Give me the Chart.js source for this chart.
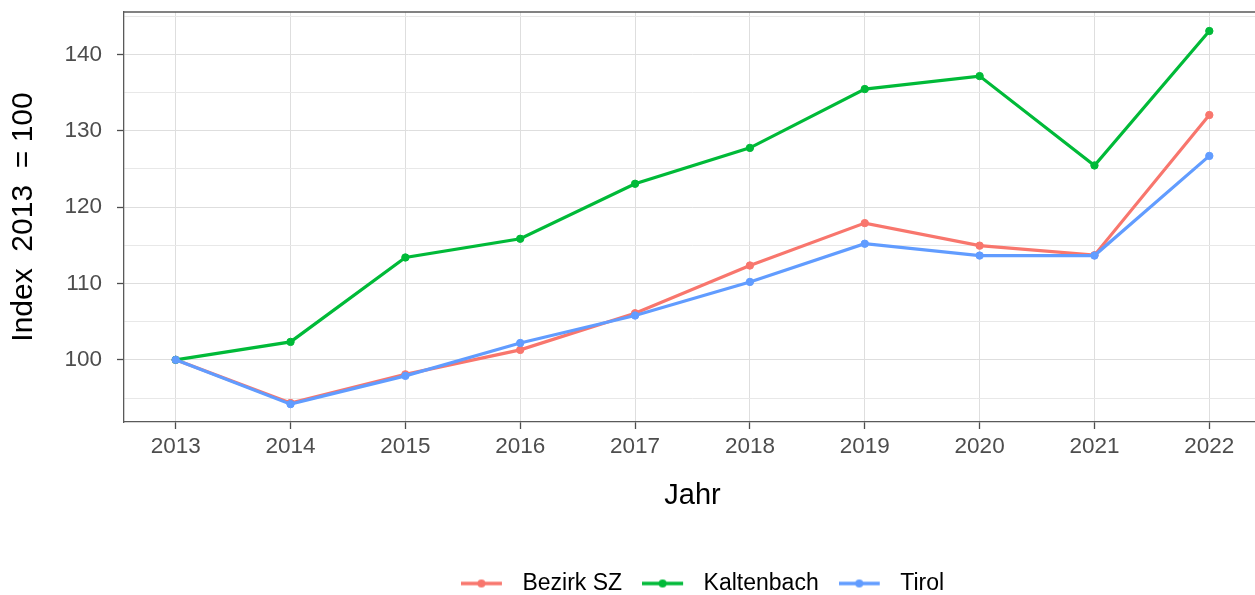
<!DOCTYPE html>
<html>
<head>
<meta charset="utf-8">
<title>Index 2013 = 100</title>
<script src="https://cdn.jsdelivr.net/npm/chart.js@4.4.1/dist/chart.umd.min.js"></script>
<style>
  html, body { margin: 0; padding: 0; background: #ffffff; overflow: hidden; }
  #wrap { width: 1266px; height: 605px; }
</style>
</head>
<body>
<div id="wrap"><canvas id="lineChart" width="1266" height="605"></canvas></div>
<script>
// DATA
const years = [2013, 2014, 2015, 2016, 2017, 2018, 2019, 2020, 2021, 2022];
const bezirkSZ   = [100, 94.35, 98.1, 101.3, 106.1, 112.35, 117.9, 114.95, 113.7, 132.05];
const kaltenbach = [100, 102.35, 113.4, 115.85, 123.05, 127.75, 135.45, 137.15, 125.45, 143.05];
const tirol      = [100, 94.2, 97.9, 102.2, 105.8, 110.2, 115.2, 113.65, 113.65, 126.7];
const seriesNames = ["Bezirk SZ", "Kaltenbach", "Tirol"];
const yMajorTicks = [100, 110, 120, 130, 140];
const yMinorTicks = [95, 105, 115, 125, 135, 145];

function toPoints(values) {
  return years.map((yr, i) => ({ x: yr, y: values[i] }));
}

// small line + dot used as legend key
function legendMarker(color) {
  const c = document.createElement("canvas");
  c.width = 50;
  c.height = 12;
  const g = c.getContext("2d");
  g.strokeStyle = color;
  g.lineWidth = 3.4;
  g.beginPath();
  g.moveTo(0, 6);
  g.lineTo(41, 6);
  g.stroke();
  g.fillStyle = color;
  g.beginPath();
  g.arc(20.5, 6, 4, 0, Math.PI * 2);
  g.fill();
  return c;
}

// top + right edge of the panel
const panelBorder = {
  id: "panelBorder",
  afterDraw(chart) {
    const a = chart.chartArea;
    const c = chart.ctx;
    c.save();
    c.strokeStyle = "#5a5a5a";
    c.lineWidth = 1.3;
    c.beginPath();
    c.moveTo(a.left, a.top);
    c.lineTo(a.right, a.top);
    c.lineTo(a.right, a.bottom);
    c.stroke();
    c.restore();
  }
};

// nudge legend a little to the right like the original
const legendShift = {
  id: "legendShift",
  afterLayout(chart) {
    chart.legend.left += 10;
    chart.legend.right += 10;
  }
};

function makeDataset(label, values, color) {
  return {
    label: label,
    data: toPoints(values),
    borderColor: color,
    backgroundColor: color,
    borderWidth: 3.2,
    pointRadius: 3.7,
    pointBackgroundColor: color,
    pointBorderColor: color,
    pointBorderWidth: 1,
    fill: false,
    tension: 0
  };
}

document.addEventListener("DOMContentLoaded", function () {

  Chart.defaults.font.family = "'Liberation Sans', Arial, sans-serif";

  const ds1 = makeDataset(seriesNames[0], bezirkSZ, "#F8766D");
  const ds2 = makeDataset(seriesNames[1], kaltenbach, "#00BA38");
  const ds3 = makeDataset(seriesNames[2], tirol, "#619CFF");
  ds1.order = 3;
  ds2.order = 2;
  ds3.order = 1;

  const ctx = document.getElementById("lineChart");

  new Chart(ctx, {
    type: "line",
    data: { datasets: [ds1, ds2, ds3] },
    plugins: [panelBorder, legendShift],
    options: {
      responsive: false,
      animation: false,
      events: [],
      layout: { padding: { top: 12, left: 0, right: 1, bottom: 0 } },
      plugins: {
        tooltip: { enabled: false },
        legend: {
          position: "bottom",
          fullSize: false,
          labels: {
            usePointStyle: true,
            pointStyleWidth: 50,
            padding: 20,
            color: "#000000",
            font: { size: 23 },
            generateLabels: chart => chart.data.datasets.map((ds, i) => ({
              text: ds.label,
              fillStyle: ds.borderColor,
              strokeStyle: ds.borderColor,
              lineWidth: 0,
              pointStyle: legendMarker(ds.borderColor),
              datasetIndex: i,
              hidden: false
            }))
          }
        }
      },
      scales: {
        x: {
          type: "linear",
          min: 2012.55,
          max: 2022.45,
          afterBuildTicks: scale => {
            scale.ticks = years.map(v => ({ value: v }));
          },
          afterFit: scale => { scale.height = 130; },
          ticks: {
            autoSkip: false,
            maxRotation: 0,
            padding: 4,
            color: "#4d4d4d",
            font: { size: 22.5 },
            callback: v => String(v)
          },
          grid: {
            color: "#dedede",
            lineWidth: 1,
            tickLength: 7,
            tickColor: "#4d4d4d",
            tickWidth: 1.3
          },
          border: { display: true, color: "#5a5a5a", width: 1.3 },
          title: {
            display: true,
            text: "Jahr",
            color: "#000000",
            font: { size: 29 },
            padding: { top: 0, bottom: 39 }
          }
        },
        y: {
          type: "linear",
          min: 91.86,
          max: 145.54,
          afterBuildTicks: scale => {
            scale.ticks = yMinorTicks.concat(yMajorTicks)
              .sort((a, b) => a - b)
              .map(v => ({ value: v }));
          },
          afterFit: scale => {
            scale.width = 124;
            // the label padding should not push the panel down
            scale.paddingTop = 0;
            scale.paddingBottom = 0;
          },
          ticks: {
            autoSkip: false,
            padding: 15,
            color: "#4d4d4d",
            font: { size: 22.5 },
            callback: v => (yMajorTicks.includes(v) ? String(v) : "")
          },
          grid: {
            color: c => (yMajorTicks.includes(c.tick.value) ? "#dedede" : "#e8e8e8"),
            lineWidth: 1,
            tickLength: 7,
            tickColor: c => (yMajorTicks.includes(c.tick.value) ? "#4d4d4d" : "rgba(0,0,0,0)"),
            tickWidth: 1.3
          },
          border: { display: true, color: "#5a5a5a", width: 1.3 },
          title: {
            display: true,
            text: "Index  2013  = 100",
            color: "#000000",
            font: { size: 30 },
            padding: { top: 6, bottom: 0 }
          }
        }
      }
    }
  });

});
</script>
</body>
</html>
